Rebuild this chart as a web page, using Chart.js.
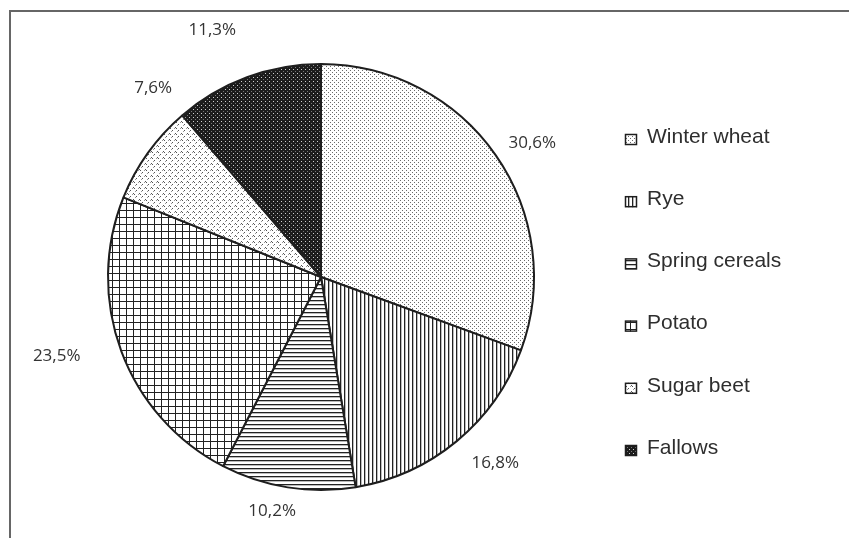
<!DOCTYPE html>
<html>
<head>
<meta charset="utf-8">
<script src="https://cdn.jsdelivr.net/npm/chart.js@4.4.1/dist/chart.umd.min.js"></script>
<style>
html, body { margin: 0; padding: 0; background: #fff; }
#wrap { position: relative; width: 849px; height: 538px; overflow: hidden; }
#frame { position: absolute; left: 9px; top: 10px; right: -4px; bottom: -4px; border-left: 2px solid #666; border-top: 2px solid #666; }
#chart { position: absolute; left: 0; top: 0; }
</style>
</head>
<body>
<div id="wrap">
  <div id="frame"></div>
  <canvas id="chart" width="849" height="538" style="width:849px;height:538px"></canvas>
</div>
<script>
// crop shares in percent, clockwise from 12 o'clock
var categories = ['Winter wheat', 'Rye', 'Spring cereals', 'Potato', 'Sugar beet', 'Fallows'];
var shares = [30.6, 16.8, 10.2, 23.5, 7.6, 11.3];

function pct(v) {
    return v.toFixed(1).replace('.', ',') + '%';
}

var canvas = document.getElementById('chart');
var ctx = canvas.getContext('2d');

// little tiles used as hatch fills
function tile(w, h, bg, draw) {
    var c = document.createElement('canvas');
    c.width = w;
    c.height = h;
    var g = c.getContext('2d');
    g.fillStyle = bg;
    g.fillRect(0, 0, w, h);
    draw(g);
    return ctx.createPattern(c, 'repeat');
}

var fills = [
    // fine stipple
    tile(4, 4, '#fff', function (g) {
        g.fillStyle = '#6a6a6a';
        g.fillRect(0, 0, 1, 1);
        g.fillRect(2, 2, 1, 1);
    }),
    // vertical lines
    tile(4, 4, '#fff', function (g) {
        g.fillStyle = '#222';
        g.fillRect(0, 0, 1, 4);
        g.fillStyle = '#bbb';
        g.fillRect(1, 0, 1, 4);
    }),
    // horizontal lines
    tile(4, 4, '#fff', function (g) {
        g.fillStyle = '#222';
        g.fillRect(0, 0, 4, 1);
        g.fillStyle = '#bbb';
        g.fillRect(0, 1, 4, 1);
    }),
    // grid
    tile(7, 7, '#fff', function (g) {
        g.fillStyle = '#222';
        g.fillRect(0, 0, 7, 1);
        g.fillRect(0, 0, 1, 7);
    }),
    // sparse diagonal ticks
    tile(6, 6, '#fff', function (g) {
        g.fillStyle = '#555';
        g.fillRect(1, 1, 1, 1);
        g.fillRect(2, 2, 1, 1);
        g.fillRect(4, 4, 1, 1);
        g.fillStyle = '#999';
        g.fillRect(0, 2, 1, 1);
        g.fillRect(3, 5, 1, 1);
    }),
    // dark with light dots
    tile(4, 4, '#1c1c1c', function (g) {
        g.fillStyle = '#d0d0d0';
        g.fillRect(1, 1, 1, 1);
        g.fillStyle = '#777';
        g.fillRect(3, 3, 1, 1);
    })
];

var sliceLabels = {
    id: 'sliceLabels',
    afterDatasetsDraw: function (chart, args, opts) {
        var c = chart.ctx;
        var meta = chart.getDatasetMeta(0);
        c.save();
        c.font = opts.font;
        c.fillStyle = opts.color;
        c.textAlign = 'center';
        c.textBaseline = 'middle';
        meta.data.forEach(function (arc, i) {
            var p = arc.getProps(['x', 'y', 'startAngle', 'endAngle', 'outerRadius'], true);
            var a = (p.startAngle + p.endAngle) / 2 + opts.turn[i] * Math.PI / 180;
            var r = p.outerRadius + opts.gap[i];
            c.fillText(pct(chart.data.datasets[0].data[i]), p.x + Math.cos(a) * r, p.y + Math.sin(a) * r);
        });
        c.restore();
    }
};

var sideLegend = {
    id: 'sideLegend',
    afterDraw: function (chart, args, opts) {
        var c = chart.ctx;
        var ds = chart.data.datasets[0];
        c.save();
        c.font = opts.font;
        c.textBaseline = 'middle';
        chart.data.labels.forEach(function (lab, i) {
            var y = opts.top + i * opts.step;
            var by = y + 8 - opts.box;
            c.fillStyle = ds.backgroundColor[i];
            c.fillRect(opts.x, by, opts.box + 1, opts.box);
            c.strokeStyle = '#1e1e1e';
            c.lineWidth = 1.5;
            c.strokeRect(opts.x + 0.5, by + 0.5, opts.box, opts.box - 1);
            c.fillStyle = opts.color;
            c.fillText(lab, opts.x + 22, y);
        });
        c.restore();
    }
};

new Chart(ctx, {
    type: 'pie',
    data: {
        labels: categories,
        datasets: [{
            data: shares,
            backgroundColor: fills,
            borderColor: '#1e1e1e',
            borderWidth: 2,
            hoverOffset: 0
        }]
    },
    options: {
        responsive: false,
        animation: false,
        events: [],
        layout: { padding: { left: 107, right: 314, top: 63, bottom: 47 } },
        plugins: {
            legend: { display: false },
            tooltip: { enabled: false },
            sliceLabels: {
                font: '17px "Open Sans"',
                color: '#333',
                gap: [37, 42, 26, 63, 40, 57],
                turn: [2.6, -3.5, 2.8, 3.6, 12.8, -3.4]
            },
            sideLegend: {
                x: 625,
                top: 137,
                step: 62.2,
                box: 11,
                font: '21px "Liberation Sans"',
                color: '#2e2e2e'
            }
        }
    },
    plugins: [sliceLabels, sideLegend]
});
</script>
</body>
</html>
